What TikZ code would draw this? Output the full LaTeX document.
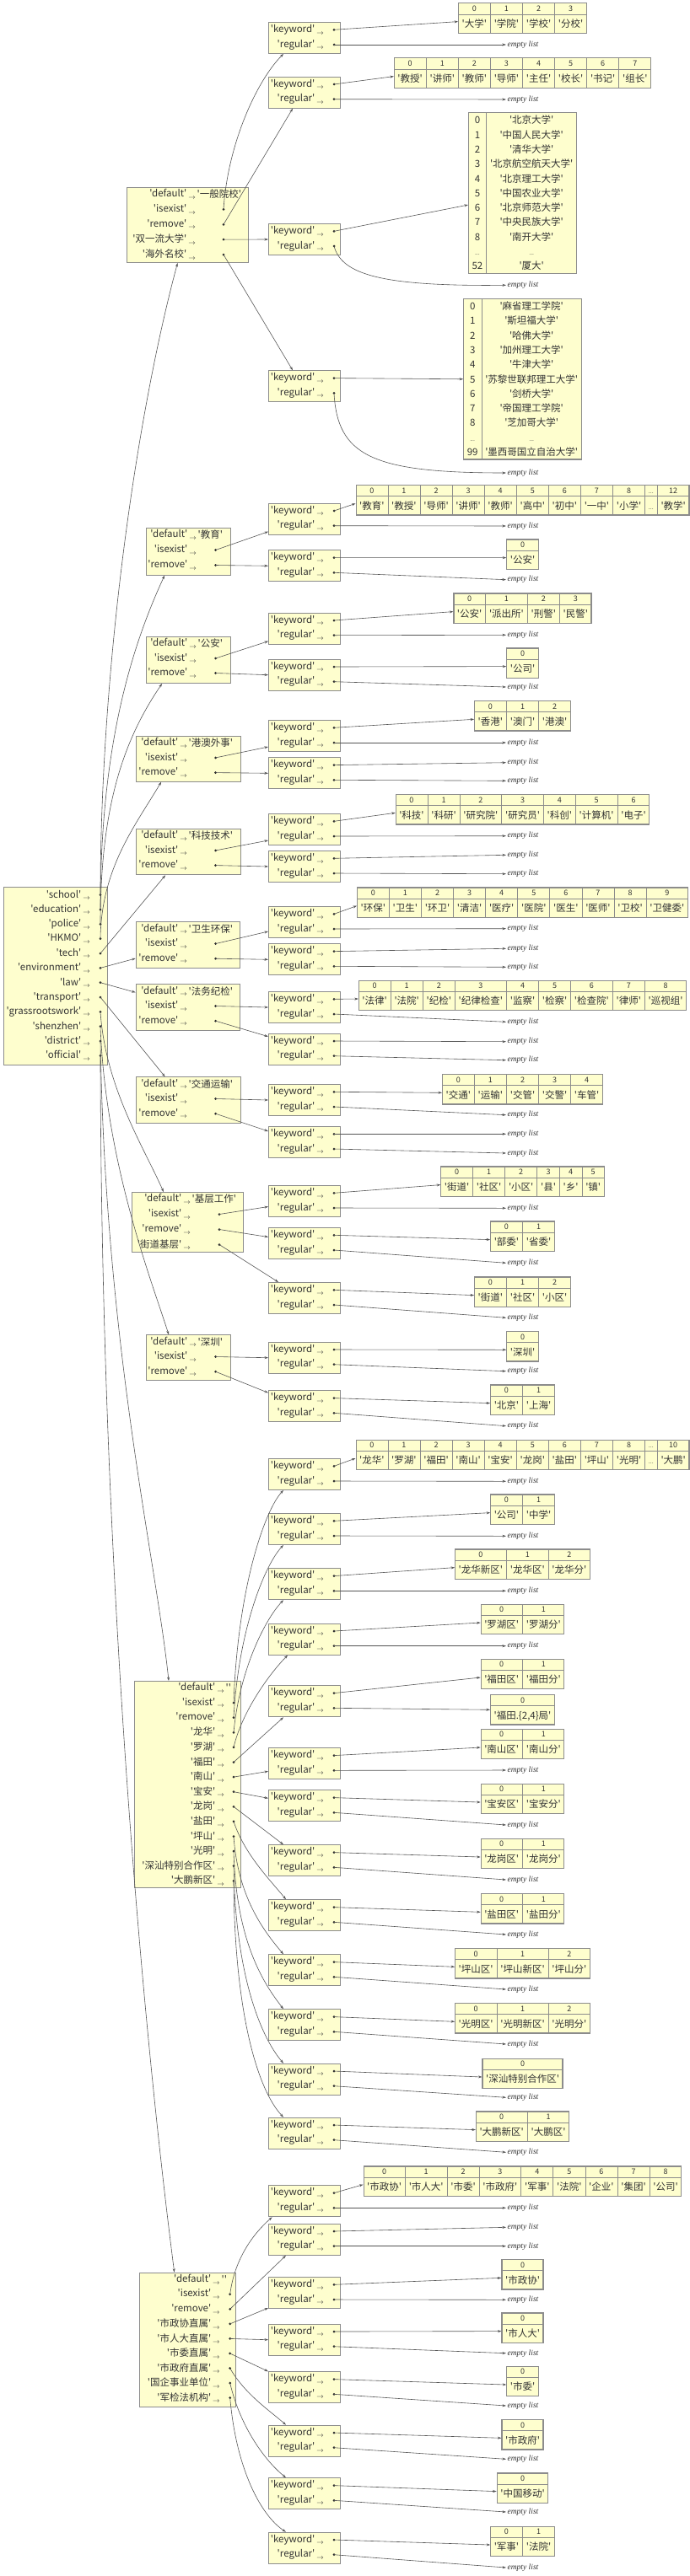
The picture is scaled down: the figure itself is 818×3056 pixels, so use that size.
\documentclass[tikz,border=0pt]{standalone}
\usepackage{fontspec}
\usepackage{colortbl}
\usetikzlibrary{arrows.meta}

\newfontfamily\cjk{Noto Sans CJK SC}
\newfontfamily\serifit{Liberation Serif}

\definecolor{boxyellow}{HTML}{FEFECE}
\definecolor{framegray}{HTML}{8C8C8C}
\definecolor{linegray}{HTML}{555555}
\definecolor{txtgray}{HTML}{333333}

\setlength{\tabcolsep}{4pt}
\setlength{\arrayrulewidth}{0.7pt}
\renewcommand{\arraystretch}{0}
\arrayrulecolor{framegray}

\newcommand{\ra}{\,\raisebox{-0.4ex}{$\scriptstyle\rightarrow$}}
\newcommand{\lix}[1]{{\fontsize{9}{9}\selectfont #1}}
\newcommand{\etc}{{\fontsize{7}{7}\selectfont ...}}
\newcommand{\idxstrut}{\rule[-3.2pt]{0pt}{12.7pt}}
\newcommand{\valstrut}{\rule[-6.8pt]{0pt}{22pt}}
\newcommand{\vx}[1]{\rule[-4.4pt]{0pt}{17.3pt}#1}

% caixa 'keyword' / 'regular'
\newcommand{\kwbox}[2]{%
  \node[kwframe] (#1) at (318,#2) {};
  \node[dkey] at ([xshift=66pt,yshift=-9.3pt]#1.north west) {'keyword'\ra};
  \node[dkey] at ([xshift=66pt,yshift=-27pt]#1.north west) {'regular'\ra};
  \coordinate (#1-k) at ([xshift=78pt,yshift=-9.3pt]#1.north west);
  \coordinate (#1-r) at ([xshift=78pt,yshift=-27pt]#1.north west);
  \fill[dotfill] (#1-k) circle (1.5pt);
  \fill[dotfill] (#1-r) circle (1.5pt);
}
% linhas de um dicionario: nome, chave, ponto, passo, valor de 'default', outras chaves
\newcommand{\dictrows}[6]{%
  \node[dkey] at ([xshift=#2pt,yshift=-8.5pt]#1.north west) {'default'\ra};
  \node[dval] at ([xshift=#2pt+1.5pt,yshift=-8.5pt]#1.north west) {#5};
  \foreach \rowkey [count=\rowno] in {#6} {
    \coordinate (#1-\rowno) at ([xshift=#3pt,yshift=-8.5pt-#4pt*\rowno]#1.north west);
    \node[dkey] at ([xshift=#2pt,yshift=-8.5pt-#4pt*\rowno]#1.north west) {\rowkey\ra};
    \fill[dotfill] (#1-\rowno) circle (1.5pt);
  }
}
\newcommand{\hlist}[5]{\node[lst] (#1) at (619.5,#2) {\begin{tabular}{#3}\idxstrut#4\\\hline\valstrut#5\end{tabular}};}
\newcommand{\vlist}[3]{\node[lst] (#1) at (619.5,#2) {\begin{tabular}{c|c}#3\end{tabular}};}

\begin{document}
\begin{tikzpicture}[
  x=1pt, y=-1pt,
  dict/.style={draw=framegray, fill=boxyellow, line width=1pt, rectangle, anchor=north west, inner sep=0pt},
  kwframe/.style={dict, minimum width=85pt, minimum height=37pt},
  dkey/.style={anchor=east, inner sep=0pt, text=txtgray, font=\cjk\fontsize{11.5}{13}\selectfont},
  dval/.style={anchor=west, inner sep=0pt, text=txtgray, font=\cjk\fontsize{11.5}{13}\selectfont},
  lst/.style={draw=framegray, fill=boxyellow, line width=1.2pt, anchor=north, inner sep=0pt, text=txtgray, font=\cjk\fontsize{11.5}{13}\selectfont},
  emptylist/.style={inner sep=1.5pt, text=txtgray, font=\serifit\itshape\fontsize{9.5}{10}\selectfont},
  ptr/.style={-{Stealth[length=4.5pt,width=3pt]}, draw=linegray, line width=0.6pt},
  dotfill/.style={fill=black!85}
  ]

  \fill[white] (0,0) rectangle (818,3056);
  \useasboundingbox (0,0) rectangle (818,3056);

  % Dicionario principal
  \node[dict, minimum width=123pt, minimum height=211pt] (cfg) at (4,1052) {};
  \foreach \rowkey [count=\rowno] in {'school','education','police','HKMO','tech','environment','law','transport','grassrootswork','shenzhen','district','official'} {
    \coordinate (cfg-\rowno) at ([xshift=115pt,yshift=-9.7pt-17.33pt*\rowno+17.33pt]cfg.north west);
    \node[dkey] at ([xshift=103pt,yshift=-9.7pt-17.33pt*\rowno+17.33pt]cfg.north west) {\rowkey\ra};
    \fill[dotfill] (cfg-\rowno) circle (1.5pt);
  }

  % Nivel 2: dicionarios de cada categoria
  \node[dict, minimum width=144pt, minimum height=89pt] (school) at (150,222) {};
  \dictrows{school}{82}{115}{17.9}{'一般院校'}{'isexist','remove','双一流大学','海外名校'}
  \node[dict, minimum width=100pt, minimum height=55.7pt] (education) at (172.6,626) {};
  \dictrows{education}{60.4}{83}{18}{'教育'}{'isexist','remove'}
  \node[dict, minimum width=100pt, minimum height=55pt] (police) at (172.6,755) {};
  \dictrows{police}{60.4}{83}{17.5}{'公安'}{'isexist','remove'}
  \node[dict, minimum width=124pt, minimum height=54pt] (hkmo) at (160.6,872.7) {};
  \dictrows{hkmo}{61.4}{95}{17.7}{'港澳外事'}{'isexist','remove'}
  \node[dict, minimum width=124pt, minimum height=54.6pt] (tech) at (160.6,982.7) {};
  \dictrows{tech}{61.4}{95}{17.7}{'科技技术'}{'isexist','remove'}
  \node[dict, minimum width=123.6pt, minimum height=54.4pt] (env) at (160.7,1093.3) {};
  \dictrows{env}{61.3}{95}{17.7}{'卫生环保'}{'isexist','remove'}
  \node[dict, minimum width=123.6pt, minimum height=54.4pt] (law) at (160.7,1167.3) {};
  \dictrows{law}{61.3}{95}{17.7}{'法务纪检'}{'isexist','remove'}
  \node[dict, minimum width=124pt, minimum height=54.4pt] (transport) at (160.6,1277.3) {};
  \dictrows{transport}{61.4}{95}{17.7}{'交通运输'}{'isexist','remove'}
  \node[dict, minimum width=132pt, minimum height=71pt] (grass) at (156.4,1414) {};
  \dictrows{grass}{69.6}{103.6}{18}{'基层工作'}{'isexist','remove','街道基层'}
  \node[dict, minimum width=100pt, minimum height=54pt] (shenzhen) at (172.6,1583.3) {};
  \dictrows{shenzhen}{60.4}{83}{17.7}{'深圳'}{'isexist','remove'}
  \node[dict, minimum width=126pt, minimum height=245.3pt] (district) at (159.4,1994) {};
  \dictrows{district}{106.6}{117.6}{17.6}{''}{'isexist','remove','龙华','罗湖','福田','南山','宝安','龙岗','盐田','坪山','光明','深汕特别合作区','大鹏新区'}
  \node[dict, minimum width=114.2pt, minimum height=159.3pt] (official) at (164.9,2695.7) {};
  \dictrows{official}{96}{107.8}{17.55}{''}{'isexist','remove','市政协直属','市人大直属','市委直属','市政府直属','国企事业单位','军检法机构'}

  % Nivel 3: caixas 'keyword' / 'regular'
  \foreach \kname/\ktop in {school-a/26, school-b/90.7, school-c/265, school-d/439.3,
      education-a/596.7, education-b/652.3, police-a/726.7, police-b/781.7,
      hkmo-a/854, hkmo-b/898.3, tech-a/965, tech-b/1009, env-a/1075, env-b/1119.3,
      law-a/1176, law-b/1225.7, transport-a/1286, transport-b/1336,
      grass-a/1406, grass-b/1456, grass-c/1521, shenzhen-a/1591.7, shenzhen-b/1649.3,
      district-a/1730, district-b/1795, district-c/1860.3, district-d/1925.7, district-e/1999.3,
      district-f/2073.3, district-g/2123.3, district-h/2188.3, district-i/2253.3, district-j/2318.3,
      district-k/2383.3, district-l/2447.7, district-m/2511.7,
      official-a/2592.3, official-b/2637.7, official-c/2701, official-d/2756.7,
      official-e/2813.3, official-f/2876.7, official-g/2939.3, official-h/3003.7}
    \kwbox{\kname}{\ktop};

  % Listas
  \hlist{school-a-kl}{3.3}{c|c|c|c}{\lix0&\lix1&\lix2&\lix3}{'大学'&'学院'&'学校'&'分校'}
  \hlist{school-b-kl}{68.3}{c|c|c|c|c|c|c|c}{\lix0&\lix1&\lix2&\lix3&\lix4&\lix5&\lix6&\lix7}{'教授'&'讲师'&'教师'&'导师'&'主任'&'校长'&'书记'&'组长'}
  \vlist{school-c-kl}{133.3}{\vx0&'北京大学'\\\vx1&'中国人民大学'\\\vx2&'清华大学'\\\vx3&'北京航空航天大学'\\\vx4&'北京理工大学'\\\vx5&'中国农业大学'\\\vx6&'北京师范大学'\\\vx7&'中央民族大学'\\\vx8&'南开大学'\\\vx\etc&\etc\\\vx{52}&'厦大'}
  \vlist{school-d-kl}{354}{\vx0&'麻省理工学院'\\\vx1&'斯坦福大学'\\\vx2&'哈佛大学'\\\vx3&'加州理工大学'\\\vx4&'牛津大学'\\\vx5&'苏黎世联邦理工大学'\\\vx6&'剑桥大学'\\\vx7&'帝国理工学院'\\\vx8&'芝加哥大学'\\\vx\etc&\etc\\\vx{99}&'墨西哥国立自治大学'}
  \hlist{education-a-kl}{575}{c|c|c|c|c|c|c|c|c|c|c}{\lix0&\lix1&\lix2&\lix3&\lix4&\lix5&\lix6&\lix7&\lix8&\etc&\lix{12}}{'教育'&'教授'&'导师'&'讲师'&'教师'&'高中'&'初中'&'一中'&'小学'&\etc&'教学'}
  \hlist{education-b-kl}{639.3}{c}{\lix0}{'公安'}
  \hlist{police-a-kl}{703.3}{c|c|c|c}{\lix0&\lix1&\lix2&\lix3}{'公安'&'派出所'&'刑警'&'民警'}
  \hlist{police-b-kl}{768.3}{c}{\lix0}{'公司'}
  \hlist{hkmo-a-kl}{831}{c|c|c}{\lix0&\lix1&\lix2}{'香港'&'澳门'&'港澳'}
  \hlist{tech-a-kl}{942}{c|c|c|c|c|c|c}{\lix0&\lix1&\lix2&\lix3&\lix4&\lix5&\lix6}{'科技'&'科研'&'研究院'&'研究员'&'科创'&'计算机'&'电子'}
  \hlist{env-a-kl}{1052.3}{c|c|c|c|c|c|c|c|c|c}{\lix0&\lix1&\lix2&\lix3&\lix4&\lix5&\lix6&\lix7&\lix8&\lix9}{'环保'&'卫生'&'环卫'&'清洁'&'医疗'&'医院'&'医生'&'医师'&'卫校'&'卫健委'}
  \hlist{law-a-kl}{1162.7}{c|c|c|c|c|c|c|c|c}{\lix0&\lix1&\lix2&\lix3&\lix4&\lix5&\lix6&\lix7&\lix8}{'法律'&'法院'&'纪检'&'纪律检查'&'监察'&'检察'&'检查院'&'律师'&'巡视组'}
  \hlist{transport-a-kl}{1274}{c|c|c|c|c}{\lix0&\lix1&\lix2&\lix3&\lix4}{'交通'&'运输'&'交管'&'交警'&'车管'}
  \hlist{grass-a-kl}{1383.3}{c|c|c|c|c|c}{\lix0&\lix1&\lix2&\lix3&\lix4&\lix5}{'街道'&'社区'&'小区'&'县'&'乡'&'镇'}
  \hlist{grass-b-kl}{1448.3}{c|c}{\lix0&\lix1}{'部委'&'省委'}
  \hlist{grass-c-kl}{1514.3}{c|c|c}{\lix0&\lix1&\lix2}{'街道'&'社区'&'小区'}
  \hlist{shenzhen-a-kl}{1579}{c}{\lix0}{'深圳'}
  \hlist{shenzhen-b-kl}{1642.3}{c|c}{\lix0&\lix1}{'北京'&'上海'}
  \hlist{district-a-kl}{1707.7}{c|c|c|c|c|c|c|c|c|c|c}{\lix0&\lix1&\lix2&\lix3&\lix4&\lix5&\lix6&\lix7&\lix8&\etc&\lix{10}}{'龙华'&'罗湖'&'福田'&'南山'&'宝安'&'龙岗'&'盐田'&'坪山'&'光明'&\etc&'大鹏'}
  \hlist{district-b-kl}{1772.3}{c|c}{\lix0&\lix1}{'公司'&'中学'}
  \hlist{district-c-kl}{1837.3}{c|c|c}{\lix0&\lix1&\lix2}{'龙华新区'&'龙华区'&'龙华分'}
  \hlist{district-d-kl}{1902.7}{c|c}{\lix0&\lix1}{'罗湖区'&'罗湖分'}
  \hlist{district-e-kl}{1967.7}{c|c}{\lix0&\lix1}{'福田区'&'福田分'}
  \hlist{district-e-rl}{2010}{c}{\lix0}{'福田.\{2,4\}局'}
  \hlist{district-f-kl}{2050.7}{c|c}{\lix0&\lix1}{'南山区'&'南山分'}
  \hlist{district-g-kl}{2115.7}{c|c}{\lix0&\lix1}{'宝安区'&'宝安分'}
  \hlist{district-h-kl}{2180.7}{c|c}{\lix0&\lix1}{'龙岗区'&'龙岗分'}
  \hlist{district-i-kl}{2246}{c|c}{\lix0&\lix1}{'盐田区'&'盐田分'}
  \hlist{district-j-kl}{2311}{c|c|c}{\lix0&\lix1&\lix2}{'坪山区'&'坪山新区'&'坪山分'}
  \hlist{district-k-kl}{2376}{c|c|c}{\lix0&\lix1&\lix2}{'光明区'&'光明新区'&'光明分'}
  \hlist{district-l-kl}{2441.7}{c}{\lix0}{'深汕特别合作区'}
  \hlist{district-m-kl}{2504.3}{c|c}{\lix0&\lix1}{'大鹏新区'&'大鹏区'}
  \hlist{official-a-kl}{2569.3}{c|c|c|c|c|c|c|c|c}{\lix0&\lix1&\lix2&\lix3&\lix4&\lix5&\lix6&\lix7&\lix8}{'市政协'&'市人大'&'市委'&'市政府'&'军事'&'法院'&'企业'&'集团'&'公司'}
  \hlist{official-c-kl}{2680}{c}{\lix0}{'市政协'}
  \hlist{official-d-kl}{2743.3}{c}{\lix0}{'市人大'}
  \hlist{official-e-kl}{2806.7}{c}{\lix0}{'市委'}
  \hlist{official-f-kl}{2870}{c}{\lix0}{'市政府'}
  \hlist{official-g-kl}{2933.3}{c}{\lix0}{'中国移动'}
  \hlist{official-h-kl}{2996.7}{c|c}{\lix0&\lix1}{'军事'&'法院'}

  % Listas vazias
  \foreach \ename/\ey in {school-a-re/53, school-b-re/118, school-c-re/338.3, school-d-re/561,
      education-a-re/624, education-b-re/687.7, police-a-re/753.3, police-b-re/815,
      hkmo-a-re/881, hkmo-b-ke/904.7, hkmo-b-re/926.3, tech-a-re/991.7, tech-b-ke/1014.3, tech-b-re/1036.7,
      env-a-re/1101.7, env-b-ke/1125.3, env-b-re/1147.3, law-a-re/1212.3, law-b-ke/1235.7, law-b-re/1257.7,
      transport-a-re/1322.7, transport-b-ke/1345.3, transport-b-re/1368,
      grass-a-re/1433.3, grass-b-re/1498.3, grass-c-re/1563.3, shenzhen-a-re/1626.7, shenzhen-b-re/1691.7,
      district-a-re/1757.3, district-b-re/1822.3, district-c-re/1887.3, district-d-re/1952.7,
      district-f-re/2100, district-g-re/2165, district-h-re/2230, district-i-re/2295, district-j-re/2360,
      district-k-re/2425, district-l-re/2488.3, district-m-re/2553.3,
      official-a-re/2619.3, official-b-ke/2642.3, official-b-re/2664.7, official-c-re/2728.3,
      official-d-re/2791.7, official-e-re/2854, official-f-re/2917.3, official-g-re/2980, official-h-re/3046}
    \node[emptylist] (\ename) at (620,\ey) {empty list};

  % Conexoes: dicionario principal -> categorias
  \draw[ptr] (cfg-1) .. controls (119,800) and (160,500) .. ([xshift=-12pt]school.south);
  \draw[ptr] (cfg-2) .. controls (119,900) and (150,780) .. ([xshift=-28pt]education.south);
  \draw[ptr] (cfg-3) .. controls (119,960) and (145,880) .. ([xshift=-31pt]police.south);
  \draw[ptr] (cfg-4) .. controls (120,1030) and (160,980) .. ([xshift=-32pt]hkmo.south);
  \draw[ptr] (cfg-5) -- ([xshift=-27pt]tech.south);
  \draw[ptr] (cfg-6) -- ([yshift=-16pt]env.west);
  \draw[ptr] (cfg-7) -- ([yshift=-10pt]law.north west);
  \draw[ptr] (cfg-8) -- ([xshift=35pt]transport.north west);
  \draw[ptr] (cfg-9) .. controls (125,1290) and (170,1360) .. ([xshift=37.5pt]grass.north west);
  \draw[ptr] (cfg-10) .. controls (125,1380) and (180,1520) .. ([xshift=27.4pt]shenzhen.north west);
  \draw[ptr] (cfg-11) .. controls (125,1600) and (185,1850) .. ([xshift=40.6pt]district.north west);
  \draw[ptr] (cfg-12) .. controls (120,1900) and (175,2450) .. ([xshift=41.8pt]official.north west);

  % Conexoes: categorias -> caixas keyword/regular
  \draw[ptr] (school-1) .. controls (270,170) and (305,95) .. ([xshift=18pt]school-a.south west);
  \draw[ptr] (school-2) -- ([xshift=29pt]school-b.south west);
  \draw[ptr] (school-3) -- (school-c.west);
  \draw[ptr] (school-4) -- ([xshift=29pt]school-d.north west);
  \draw[ptr] (education-1) -- ([yshift=4pt]education-a.south west);
  \draw[ptr] (education-2) -- (education-b.west);
  \draw[ptr] (police-1) -- ([yshift=4pt]police-a.south west);
  \draw[ptr] (police-2) -- (police-b.west);
  \draw[ptr] (hkmo-1) -- ([yshift=6pt]hkmo-a.south west);
  \draw[ptr] (hkmo-2) -- (hkmo-b.west);
  \draw[ptr] (tech-1) -- ([yshift=6pt]tech-a.south west);
  \draw[ptr] (tech-2) -- (tech-b.west);
  \draw[ptr] (env-1) -- ([yshift=8pt]env-a.south west);
  \draw[ptr] (env-2) -- (env-b.west);
  \draw[ptr] (law-1) -- (law-a.west);
  \draw[ptr] (law-2) -- ([yshift=-4pt]law-b.north west);
  \draw[ptr] (transport-1) -- (transport-a.west);
  \draw[ptr] (transport-2) -- ([yshift=-6pt]transport-b.north west);
  \draw[ptr] (grass-1) -- ([yshift=-6.5pt]grass-a.west);
  \draw[ptr] (grass-2) -- ([yshift=7.5pt]grass-b.west);
  \draw[ptr] (grass-3) -- ([xshift=12pt]grass-c.north west);
  \draw[ptr] (shenzhen-1) -- (shenzhen-a.west);
  \draw[ptr] (shenzhen-2) -- ([yshift=-3pt]shenzhen-b.north west);
  \draw[ptr] (district-1) .. controls (282,1880) and (315,1790) .. ([xshift=18pt]district-a.south west);
  \draw[ptr] (district-2) .. controls (283,1930) and (315,1855) .. ([xshift=18pt]district-b.south west);
  \draw[ptr] (district-3) .. controls (284,1980) and (315,1920) .. ([xshift=18pt]district-c.south west);
  \draw[ptr] (district-4) .. controls (287,2030) and (320,1985) .. ([xshift=23pt]district-d.south west);
  \draw[ptr] (district-5) -- ([xshift=18pt]district-e.south west);
  \draw[ptr] (district-6) -- ([yshift=-9pt]district-f.west);
  \draw[ptr] (district-7) -- ([yshift=9pt]district-g.west);
  \draw[ptr] (district-8) -- ([xshift=18pt]district-h.north west);
  \draw[ptr] (district-9) .. controls (290,2200) and (320,2230) .. ([xshift=21pt]district-i.north west);
  \draw[ptr] (district-10) .. controls (282,2250) and (312,2290) .. ([xshift=18pt]district-j.north west);
  \draw[ptr] (district-11) .. controls (280,2300) and (310,2350) .. ([xshift=18pt]district-k.north west);
  \draw[ptr] (district-12) .. controls (279,2340) and (308,2415) .. ([xshift=18pt]district-l.north west);
  \draw[ptr] (district-13) .. controls (278,2390) and (306,2480) .. ([xshift=18pt]district-m.north west);
  \draw[ptr] (official-1) .. controls (278,2680) and (300,2650) .. ([xshift=4.6pt]official-a.south west);
  \draw[ptr] (official-2) -- ([xshift=21pt]official-b.south west);
  \draw[ptr] (official-3) -- ([yshift=1pt]official-c.south west);
  \draw[ptr] (official-4) -- (official-d.west);
  \draw[ptr] (official-5) -- (official-e.north west);
  \draw[ptr] (official-6) .. controls (290,2840) and (320,2860) .. ([xshift=21pt]official-f.north west);
  \draw[ptr] (official-7) .. controls (285,2880) and (315,2920) .. ([xshift=21pt]official-g.north west);
  \draw[ptr] (official-8) .. controls (280,2930) and (310,2985) .. ([xshift=21pt]official-h.north west);

  % Conexoes: keyword -> listas
  \foreach \kname in {school-a, school-b, education-a, education-b, police-a, police-b, hkmo-a, tech-a,
      env-a, law-a, transport-a, grass-a, grass-b, grass-c, shenzhen-a, shenzhen-b,
      district-a, district-b, district-c, district-d, district-e, district-f, district-g, district-h,
      district-i, district-j, district-k, district-l, district-m,
      official-a, official-c, official-d, official-e, official-f, official-g, official-h}
    \draw[ptr] (\kname-k) -- ([yshift=-4pt]\kname-kl.west);
  \draw[ptr] (school-c-k) -- ([yshift=-14pt]school-c-kl.west);
  \draw[ptr] (school-d-k) -- (school-d-kl.west);
  \foreach \kname in {hkmo-b, tech-b, env-b, law-b, transport-b, official-b}
    \draw[ptr] (\kname-k) -- (\kname-ke.west);

  % Conexoes: regular -> listas vazias
  \foreach \kname in {school-a, school-b, education-a, education-b, police-a, police-b, hkmo-a, hkmo-b,
      tech-a, tech-b, env-a, env-b, law-a, law-b, transport-a, transport-b, grass-a, grass-b, grass-c,
      shenzhen-a, shenzhen-b, district-a, district-b, district-c, district-d, district-f, district-g,
      district-h, district-i, district-j, district-k, district-l, district-m,
      official-a, official-b, official-c, official-d, official-e, official-f, official-g, official-h}
    \draw[ptr] (\kname-r) -- (\kname-re.west);
  \draw[ptr] (school-c-r) .. controls (405,325) and (450,340) .. (school-c-re.west);
  \draw[ptr] (school-d-r) .. controls (400,540) and (440,561) .. (school-d-re.west);
  \draw[ptr] (district-e-r) -- (district-e-rl.west);

\end{tikzpicture}
\end{document}
